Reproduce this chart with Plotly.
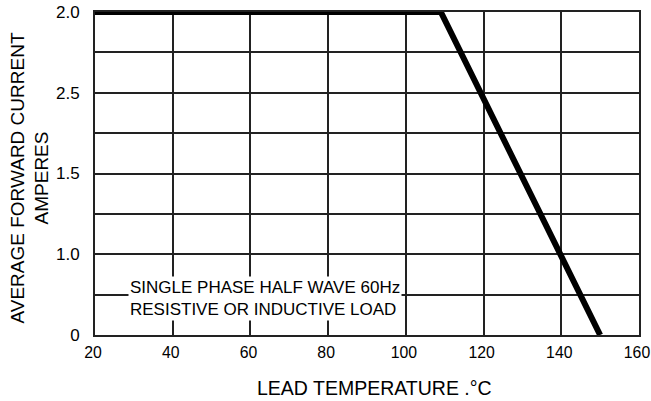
import plotly.graph_objects as go

# Data
temp = [20, 109, 150]
current = [2.0, 2.0, 0.0]

x_ticks = [20, 40, 60, 80, 100, 120, 140, 160]
y_tickvals = [0, 0.25, 0.5, 0.75, 1.0, 1.25, 1.5, 1.75, 2.0]
y_ticktext = ["0", "", "1.0", "", "1.5", "", "2.5", "", "2.0"]

note_lines = ["SINGLE PHASE HALF WAVE 60Hz", "RESISTIVE OR INDUCTIVE LOAD"]
x_title = "LEAD TEMPERATURE .°C"
y_title_lines = ["AVERAGE FORWARD CURRENT", "AMPERES"]

FONT = "Liberation Sans, Arial, sans-serif"

fig = go.Figure()
fig.add_trace(go.Scatter(x=temp, y=current, mode="lines",
                         line=dict(color="black", width=6),
                         hoverinfo="skip", showlegend=False, cliponaxis=False))

fig.add_annotation(x=28.5, y=0.226, xref="x", yref="y", xanchor="left", yanchor="middle",
                   text="<br>".join(note_lines), showarrow=False, align="left",
                   font=dict(family=FONT, size=17, color="black"),
                   bgcolor="white", borderpad=1)

fig.add_annotation(x=0.5, y=0, xref="paper", yref="paper", xanchor="center",
                   yanchor="middle", xshift=7, yshift=-53, showarrow=False,
                   text=x_title, font=dict(family=FONT, size=19.5, color="black"))

fig.add_annotation(x=0, y=0.5, xref="paper", yref="paper", xanchor="center",
                   yanchor="middle", xshift=-66, yshift=-5, showarrow=False,
                   textangle=-90, text="<br>".join(y_title_lines),
                   font=dict(family=FONT, size=19, color="black"))

fig.update_layout(
    width=651, height=401,
    margin=dict(l=95, r=12, t=12, b=66, autoexpand=False),
    paper_bgcolor="white", plot_bgcolor="white",
    font=dict(family=FONT, size=16, color="black"),
    xaxis=dict(range=[20, 160], tickvals=x_ticks, showgrid=True, automargin=False,
               gridcolor="#222", gridwidth=2, showline=True, linecolor="#222",
               linewidth=2, mirror=True, zeroline=False, ticks="",
               ticklabelstandoff=2, ticklabelshift=-2, ticklabeloverflow="allow",
               tickfont=dict(size=15.8, color="black")),
    yaxis=dict(range=[0, 2], tickvals=y_tickvals, ticktext=y_ticktext, showgrid=True,
               automargin=False,
               gridcolor="#222", gridwidth=2, showline=True, linecolor="#222",
               linewidth=2, mirror=True, zeroline=False, ticks="",
               ticklabelstandoff=10, ticklabeloverflow="allow",
               tickfont=dict(size=17, color="black")),
)

fig.write_html("out.html", config={"displayModeBar": False},
               post_script="document.body.style.margin='0';document.body.style.overflow='hidden';")
